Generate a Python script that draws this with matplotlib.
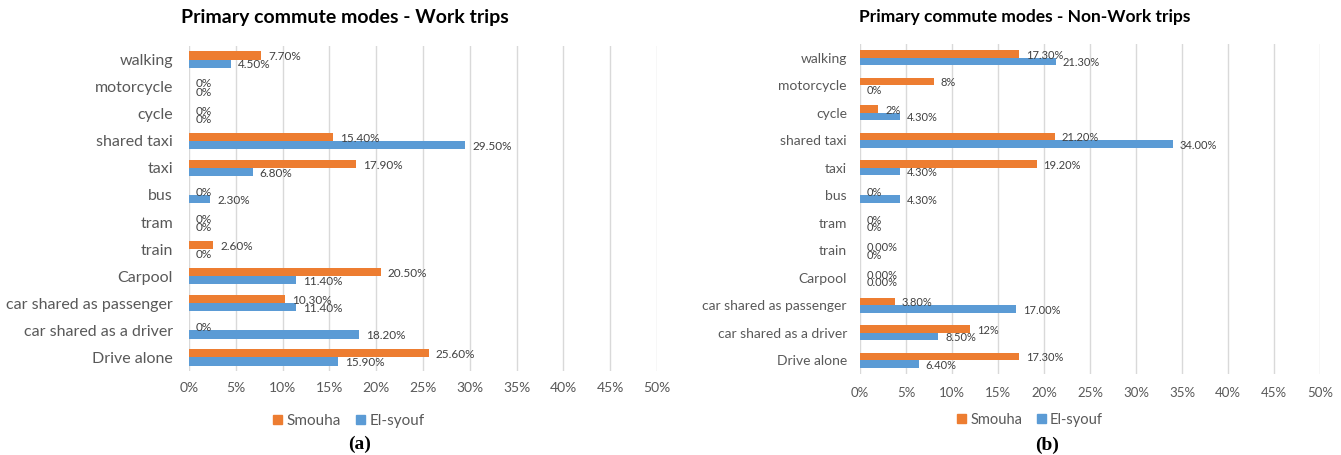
import matplotlib
matplotlib.use('Agg')
import matplotlib.pyplot as plt
import numpy as np
from matplotlib.patches import Patch

plt.rcParams['font.family'] = ['Lato', 'DejaVu Sans']

modes = ['walking', 'motorcycle', 'cycle', 'shared taxi', 'taxi', 'bus', 'tram', 'train',
         'Carpool', 'car shared as passenger', 'car shared as a driver', 'Drive alone']
series = ['Smouha', 'El-syouf']

work_smouha = [7.7, 0, 0, 15.4, 17.9, 0, 0, 2.6, 20.5, 10.3, 0, 25.6]
work_elsyouf = [4.5, 0, 0, 29.5, 6.8, 2.3, 0, 0, 11.4, 11.4, 18.2, 15.9]
work_smouha_lbl = ['7.70%', '0%', '0%', '15.40%', '17.90%', '0%', '0%', '2.60%',
                   '20.50%', '10.30%', '0%', '25.60%']
work_elsyouf_lbl = ['4.50%', '0%', '0%', '29.50%', '6.80%', '2.30%', '0%', '0%',
                    '11.40%', '11.40%', '18.20%', '15.90%']

nonwork_smouha = [17.3, 8, 2, 21.2, 19.2, 0, 0, 0, 0, 3.8, 12, 17.3]
nonwork_elsyouf = [21.3, 0, 4.3, 34.0, 4.3, 4.3, 0, 0, 0, 17.0, 8.5, 6.4]
nonwork_smouha_lbl = ['17.30%', '8%', '2%', '21.20%', '19.20%', '0%', '0%', '0.00%',
                      '0.00%', '3.80%', '12%', '17.30%']
nonwork_elsyouf_lbl = ['21.30%', '0%', '4.30%', '34.00%', '4.30%', '4.30%', '0%', '0%',
                       '0.00%', '17.00%', '8.50%', '6.40%']

xticks = list(range(0, 55, 5))

orange = '#ED7D31'
blue = '#5B9BD5'
grid_c = '#D9D9D9'
txt_c = '#595959'
lbl_c = '#404040'


def draw(ax, a, b, la, lb, h, fs_tick, fs_y, fs_lbl, ypad, xpad):
    y = np.arange(len(modes))
    ax.barh(y - h / 2, a, height=h, color=orange, zorder=2)
    ax.barh(y + h / 2, b, height=h, color=blue, zorder=2)
    # data labels just past the bar ends (Excel "outside end")
    for yi, v, s in zip(y - h / 2, a, la):
        ax.annotate(s, xy=(v, yi), xytext=(5, -1), textcoords='offset points',
                    va='center', ha='left', fontsize=fs_lbl, color=lbl_c)
    for yi, v, s in zip(y + h / 2, b, lb):
        ax.annotate(s, xy=(v, yi), xytext=(5, -1), textcoords='offset points',
                    va='center', ha='left', fontsize=fs_lbl, color=lbl_c)
    ax.set_xlim(0, 50)
    ax.set_ylim(len(modes) - 0.5, -0.5)
    ax.set_xticks(xticks)
    ax.set_xticklabels([f'{t}%' for t in xticks])
    ax.set_yticks(y)
    ax.set_yticklabels(modes)
    ax.grid(axis='x', color=grid_c, lw=1, zorder=0)
    ax.set_axisbelow(True)
    for sp in ax.spines.values():
        sp.set_visible(False)
    ax.tick_params(axis='both', length=0, colors=txt_c)
    ax.tick_params(axis='x', labelsize=fs_tick, pad=xpad)
    ax.tick_params(axis='y', labelsize=fs_y, pad=ypad)


fig = plt.figure(figsize=(13.41, 4.55), dpi=100)
ax1 = fig.add_axes([0.1409, 0.1846, 0.349, 0.7143])
ax2 = fig.add_axes([0.6413, 0.178, 0.343, 0.7253])

draw(ax1, work_smouha, work_elsyouf, work_smouha_lbl, work_elsyouf_lbl,
     0.3, 10, 11.5, 8.5, 11.5, 8)
draw(ax2, nonwork_smouha, nonwork_elsyouf, nonwork_smouha_lbl, nonwork_elsyouf_lbl,
     0.28, 9.5, 10, 8, 9.4, 9)

fig.text(345 / 1341, 1 - 18 / 455, 'Primary commute modes - Work trips',
         ha='center', va='center', fontsize=14, fontweight='bold', color='black')
fig.text(1025 / 1341, 1 - 17 / 455, 'Primary commute modes - Non-Work trips',
         ha='center', va='center', fontsize=12.5, fontweight='bold', color='black')

handles = [Patch(color=orange), Patch(color=blue)]
fig.legend(handles, series, loc='center', bbox_to_anchor=(349 / 1341, 1 - 421 / 455),
           ncol=2, frameon=False, fontsize=11, handlelength=0.6, handleheight=0.6,
           handletextpad=0.3, columnspacing=1.0, labelcolor=txt_c)
fig.legend(handles, series, loc='center', bbox_to_anchor=(1030 / 1341, 1 - 420 / 455),
           ncol=2, frameon=False, fontsize=10.5, handlelength=0.6, handleheight=0.6,
           handletextpad=0.3, columnspacing=1.0, labelcolor=txt_c)

fig.text(360 / 1341, 1 - 444 / 455, '(a)', ha='center', va='center', fontsize=14,
         fontweight='bold', family='Liberation Serif')
fig.text(1047 / 1341, 1 - 445 / 455, '(b)', ha='center', va='center', fontsize=14,
         fontweight='bold', family='Liberation Serif')

fig.savefig('out.png', dpi=100)
